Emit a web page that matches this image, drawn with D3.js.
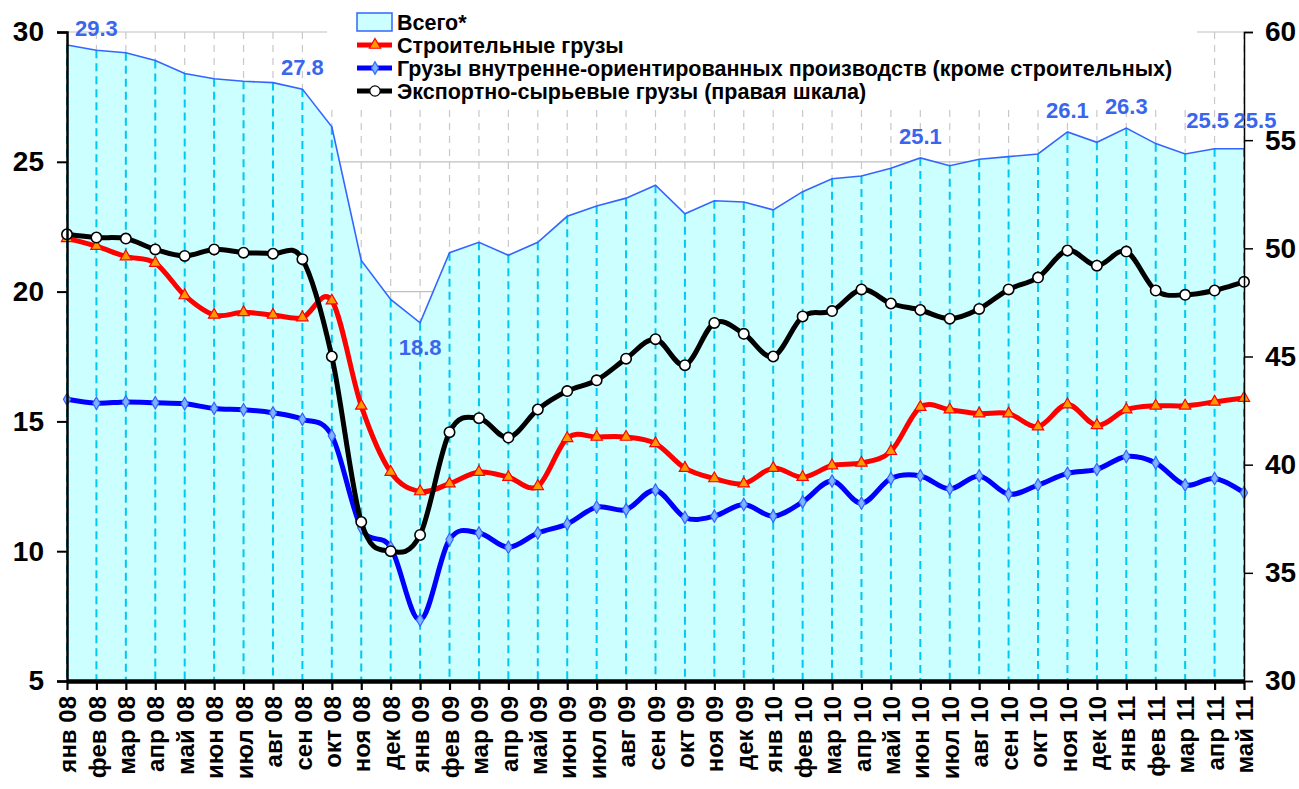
<!DOCTYPE html>
<html lang="ru">
<head>
    <meta charset="UTF-8">
    <title>Грузы</title>
    <script src="https://cdn.jsdelivr.net/npm/d3@7/dist/d3.min.js"></script>
    <style>
        body { margin: 0; background: #fff; }
        text { font-family: Arial, "Liberation Sans", sans-serif; font-weight: bold; }
    </style>
</head>
<body>
    <svg id="mainsvg" width="1299" height="789"></svg>
    <script>
        const months = ["янв 08","фев 08","мар 08","апр 08","май 08","июн 08","июл 08","авг 08","сен 08","окт 08","ноя 08","дек 08",
            "янв 09","фев 09","мар 09","апр 09","май 09","июн 09","июл 09","авг 09","сен 09","окт 09","ноя 09","дек 09",
            "янв 10","фев 10","мар 10","апр 10","май 10","июн 10","июл 10","авг 10","сен 10","окт 10","ноя 10","дек 10",
            "янв 11","фев 11","мар 11","апр 11","май 11"];

        // Всего* (левая шкала)
        const total = [29.5,29.3,29.2,28.9,28.4,28.2,28.1,28.05,27.8,26.35,21.2,19.7,
            18.8,21.5,21.9,21.4,21.9,22.9,23.3,23.6,24.1,23.0,23.5,23.45,
            23.15,23.85,24.35,24.45,24.75,25.15,24.85,25.1,25.2,25.3,26.15,25.75,
            26.3,25.7,25.3,25.5,25.5];

        // Строительные грузы (левая шкала)
        const construction = [22.05,21.75,21.35,21.1,19.85,19.1,19.2,19.1,19.0,19.65,15.6,13.05,
            12.3,12.6,13.05,12.85,12.5,14.35,14.4,14.4,14.15,13.2,12.8,12.6,
            13.2,12.85,13.3,13.4,13.85,15.55,15.45,15.3,15.3,14.8,15.65,14.85,
            15.45,15.6,15.6,15.75,15.9];

        // Грузы внутренне-ориентированных производств (левая шкала)
        const domestic = [15.85,15.7,15.75,15.72,15.68,15.5,15.45,15.33,15.08,14.45,10.9,10.15,
            7.35,10.45,10.7,10.15,10.7,11.05,11.7,11.6,12.35,11.3,11.35,11.8,
            11.35,11.9,12.7,11.85,12.8,12.9,12.4,12.9,12.2,12.55,13.0,13.15,
            13.65,13.4,12.55,12.8,12.25];

        // Экспортно-сырьевые грузы (правая шкала)
        const exportRaw = [50.65,50.5,50.45,49.95,49.65,49.95,49.8,49.75,49.5,45.0,37.35,36.0,
            36.75,41.5,42.15,41.25,42.55,43.4,43.9,44.9,45.8,44.6,46.55,46.05,
            45.0,46.85,47.1,48.1,47.45,47.15,46.75,47.2,48.1,48.65,49.9,49.2,
            49.85,48.05,47.85,48.05,48.45];

        const leftTicks = [5,10,15,20,25,30];
        const rightTicks = [30,35,40,45,50,55,60];
        const labelIdx = [1,8,12,29,34,36,39,40];

        const svg = d3.select("#mainsvg");
        const margin = {top:32, left:67, right:55, bottom:108};
        const width = +svg.attr("width");
        const height = +svg.attr("height");
        const x0 = margin.left, x1 = width - margin.right;
        const y0 = margin.top, y1 = height - margin.bottom;

        const x = d3.scalePoint().domain(months).range([x0, x1]);
        const yL = d3.scaleLinear().domain([5,30]).range([y1, y0]);
        const yR = d3.scaleLinear().domain([30,60]).range([y1, y0]);

        // сетка
        svg.append("g").selectAll("line").data(leftTicks.slice(1)).join("line")
            .attr("x1", x0).attr("x2", x1)
            .attr("y1", d => yL(d)).attr("y2", d => yL(d))
            .attr("stroke", "#c0c0c0").attr("stroke-width", 1.2);
        svg.append("g").selectAll("line").data(months.slice(1)).join("line")
            .attr("x1", d => x(d)).attr("x2", d => x(d))
            .attr("y1", y0).attr("y2", y1)
            .attr("stroke", "#c8c8c8").attr("stroke-width", 1.2)
            .attr("stroke-dasharray", "7,6");

        // Всего - область
        const area = d3.area()
            .x((d, i) => x(months[i]))
            .y0(yL(5))
            .y1(d => yL(d));
        svg.append("path").datum(total)
            .attr("d", area)
            .attr("fill", "#ccffff");

        svg.append("g").selectAll("line").data(total).join("line")
            .attr("x1", (d, i) => x(months[i])).attr("x2", (d, i) => x(months[i]))
            .attr("y1", d => yL(d)).attr("y2", y1)
            .attr("stroke", "#00c8f0").attr("stroke-width", 2)
            .attr("stroke-dasharray", "8,5");

        svg.append("path").datum(total)
            .attr("d", d3.line().x((d, i) => x(months[i])).y(d => yL(d)))
            .attr("fill", "none")
            .attr("stroke", "#3366ff")
            .attr("stroke-width", 1.6);

        // фон легенды
        svg.append("rect")
            .attr("x", 327).attr("y", 0)
            .attr("width", 870).attr("height", 106)
            .attr("fill", "#fff");

        const smooth = d3.curveCardinal.tension(0);

        function drawSeries(values, scale, color) {
            svg.append("path").datum(values)
                .attr("d", d3.line().curve(smooth).x((d, i) => x(months[i])).y(d => scale(d)))
                .attr("fill", "none")
                .attr("stroke", color)
                .attr("stroke-width", 5)
                .attr("stroke-linejoin", "round");
            return svg.append("g").selectAll("path").data(values).join("path")
                .attr("transform", (d, i) => `translate(${x(months[i])},${scale(d)})`);
        }

        const triangle = d3.symbol().type(d3.symbolTriangle).size(55);
        const diamond = d3.symbol().type(d3.symbolDiamond).size(45);
        const circle = d3.symbol().type(d3.symbolCircle).size(85);

        drawSeries(construction, yL, "#ff0000")
            .attr("d", triangle).attr("fill", "#ff9900").attr("stroke", "#ff0000").attr("stroke-width", 1.2);
        drawSeries(domestic, yL, "#0000ff")
            .attr("d", diamond).attr("fill", "#7fb2ff").attr("stroke", "#3366ff").attr("stroke-width", 1.2);
        drawSeries(exportRaw, yR, "#000000")
            .attr("d", circle).attr("fill", "#ffffff").attr("stroke", "#000").attr("stroke-width", 1.6);

        // оси
        const leftAxis = d3.axisLeft(yL).tickValues(leftTicks).tickSize(10).tickPadding(13);
        const gl = svg.append("g").attr("transform", `translate(${x0},0)`).call(leftAxis);
        gl.select(".domain").attr("stroke-width", 2.5);
        gl.selectAll(".tick line").attr("stroke-width", 2);
        gl.selectAll(".tick text").attr("font-size", "28px").attr("fill", "#000");

        const rightAxis = d3.axisRight(yR).tickValues(rightTicks).tickSize(9).tickPadding(12);
        const gr = svg.append("g").attr("transform", `translate(${x1},0)`).call(rightAxis);
        gr.select(".domain").attr("stroke-width", 1.5);
        gr.selectAll(".tick line").attr("stroke-width", 1.5);
        gr.selectAll(".tick text").attr("font-size", "28px").attr("fill", "#000");

        const bottomAxis = d3.axisBottom(x).tickSize(9).tickSizeOuter(0).tickPadding(16);
        const gb = svg.append("g").attr("transform", `translate(0,${y1})`).call(bottomAxis);
        gb.select(".domain").attr("stroke-width", 4.5);
        gb.selectAll(".tick line").attr("stroke-width", 2.2);
        gb.selectAll(".tick text")
            .attr("font-size", "24px").attr("fill", "#000")
            .attr("transform", "rotate(-90)")
            .attr("text-anchor", "end")
            .attr("x", -15).attr("y", 0).attr("dy", "0.36em");

        // подписи значений
        const last = labelIdx.length - 1;
        svg.append("g").selectAll("text").data(labelIdx).join("text")
            .attr("x", (d, i) => x(months[d]) + (i === last ? 11 : i === last - 1 ? -7 : 0))
            .attr("y", (d, i) => yL(total[d]) + (d === 12 ? 32 : i >= last - 1 ? -21 : -14))
            .attr("text-anchor", "middle")
            .attr("font-size", "22px")
            .attr("fill", "#3a66ee")
            .text(d => total[d].toFixed(1));

        // легенда
        const legend = [
            {name: "Всего*", type: "area"},
            {name: "Строительные грузы", type: "line", color: "#ff0000", sym: triangle, fill: "#ff9900", stroke: "#ff0000"},
            {name: "Грузы внутренне-ориентированных производств (кроме строительных)", type: "line", color: "#0000ff", sym: diamond, fill: "#7fb2ff", stroke: "#3366ff"},
            {name: "Экспортно-сырьевые грузы (правая шкала)", type: "line", color: "#000", sym: circle, fill: "#fff", stroke: "#000"}
        ];
        const lg = svg.append("g").attr("transform", "translate(357,22)");
        legend.forEach((d, i) => {
            const row = lg.append("g").attr("transform", `translate(0,${i * 23})`);
            if (d.type === "area") {
                row.append("rect").attr("x", 0).attr("y", -9).attr("width", 35).attr("height", 18)
                    .attr("fill", "#ccffff").attr("stroke", "#3366ff").attr("stroke-width", 1.5);
            } else {
                row.append("line").attr("x1", 0).attr("x2", 35).attr("y1", 0).attr("y2", 0)
                    .attr("stroke", d.color).attr("stroke-width", 5);
                row.append("path").attr("d", d.sym).attr("transform", "translate(18,0)")
                    .attr("fill", d.fill).attr("stroke", d.stroke).attr("stroke-width", 1.2);
            }
            row.append("text").attr("x", 40).attr("y", 0).attr("dy", "0.35em")
                .attr("font-size", "21.5px").attr("fill", "#000").text(d.name);
        });
    </script>
</body>
</html>
